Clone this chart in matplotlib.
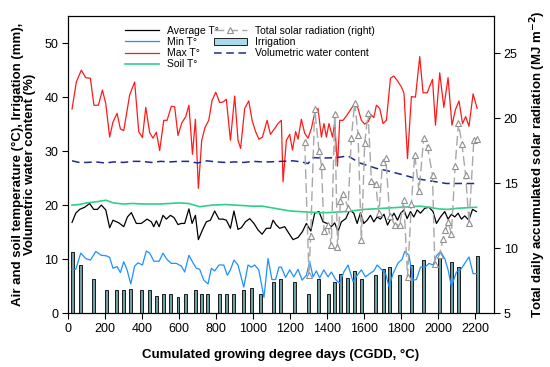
import matplotlib
matplotlib.use("Agg")
import matplotlib.pyplot as plt
from matplotlib.patches import Patch

plt.rcParams['font.family'] = ['Liberation Sans', 'DejaVu Sans']

# ---------------- data ----------------
max_x = [22, 45, 72, 96, 121, 140, 164, 186, 204, 225, 243, 265, 283, 301, 333, 360, 382, 402, 420, 441,
         459, 477, 495, 517, 535, 558, 576, 594, 614, 636, 653, 672, 688, 704, 722, 740, 760, 778, 798, 819,
         837, 855, 877, 900, 918, 932, 954, 976, 994, 1013, 1031, 1050, 1075, 1093, 1116, 1134, 1152, 1161,
         1179, 1197, 1212, 1229, 1242, 1260, 1278, 1296, 1314, 1332, 1350, 1368, 1382, 1395, 1409, 1428, 1440,
         1455, 1467, 1485, 1507, 1530, 1548, 1566, 1584, 1602, 1620, 1638, 1651, 1665, 1683, 1701, 1719, 1741,
         1759, 1777, 1800, 1814, 1833, 1854, 1876, 1899, 1917, 1939, 1968, 1984, 2007, 2029, 2052, 2073, 2092,
         2111, 2130, 2147, 2165, 2187, 2209]
max_t = [37.8, 42.8, 45.0, 43.6, 43.5, 38.5, 38.5, 41.3, 38.8, 32.6, 35.4, 37.0, 34.1, 33.8, 40.4, 42.8, 33.6,
         32.5, 38.1, 33.4, 32.4, 33.5, 30.1, 35.7, 35.7, 38.3, 38.2, 32.9, 35.2, 36.4, 38.5, 29.4, 35.9, 23.1,
         32.0, 34.4, 35.7, 39.4, 40.9, 39.0, 39.1, 39.6, 32.0, 40.2, 32.0, 30.5, 37.9, 39.3, 35.7, 33.6, 32.2,
         32.6, 35.7, 33.1, 34.2, 35.1, 35.7, 24.3, 32.0, 33.1, 30.2, 33.6, 32.2, 35.9, 33.3, 32.4, 34.2, 37.0,
         37.9, 32.6, 35.1, 32.6, 35.1, 32.6, 35.2, 27.2, 35.7, 35.7, 36.7, 37.9, 38.8, 37.9, 35.7, 35.0, 35.4,
         36.7, 36.2, 38.5, 37.9, 35.1, 35.7, 43.5, 43.9, 43.1, 41.9, 40.7, 28.6, 40.1, 40.0, 47.5, 40.8, 40.8,
         43.3, 34.8, 44.5, 38.1, 43.6, 34.8, 37.7, 39.3, 35.1, 36.4, 34.6, 40.6, 37.9]

avg_x = [22, 42, 63, 90, 117, 139, 159, 180, 204, 225, 243, 275, 301, 321, 342, 369, 396, 427, 450, 463, 477,
         492, 513, 531, 553, 572, 594, 612, 630, 653, 670, 688, 704, 726, 747, 769, 792, 815, 837, 855, 877, 896,
         918, 936, 958, 981, 1004, 1026, 1048, 1071, 1093, 1107, 1125, 1143, 1170, 1192, 1215, 1242, 1266, 1287,
         1311, 1332, 1355, 1377, 1399, 1422, 1440, 1458, 1476, 1500, 1521, 1543, 1561, 1579, 1597, 1615, 1633,
         1651, 1669, 1687, 1706, 1725, 1743, 1760, 1779, 1796, 1814, 1831, 1849, 1867, 1885, 1903, 1926, 1949,
         1971, 1989, 2011, 2034, 2052, 2070, 2088, 2106, 2124, 2142, 2164, 2184, 2205]
avg_t = [16.8, 18.5, 19.2, 19.6, 20.3, 19.2, 19.2, 20.0, 19.1, 15.8, 17.2, 16.7, 16.0, 17.8, 18.6, 16.6, 16.6,
         17.4, 16.9, 16.0, 17.1, 16.0, 18.1, 17.4, 18.1, 17.7, 16.4, 16.6, 16.6, 19.3, 16.6, 18.1, 13.6, 15.4,
         16.9, 17.2, 18.9, 17.4, 17.4, 17.2, 15.7, 18.9, 15.5, 15.8, 16.9, 17.5, 16.6, 15.4, 14.6, 15.7, 15.7,
         17.2, 16.3, 15.7, 16.0, 14.8, 13.6, 14.0, 15.1, 16.6, 15.2, 18.5, 18.8, 16.9, 16.6, 16.0, 16.7, 15.1,
         16.9, 17.5, 19.1, 18.5, 16.6, 18.6, 16.6, 17.2, 18.1, 16.9, 17.8, 17.4, 18.3, 16.3, 17.5, 18.5, 17.2,
         18.5, 19.1, 17.5, 18.8, 17.8, 19.1, 18.5, 19.4, 19.6, 18.8, 16.6, 17.8, 18.8, 17.4, 18.3, 17.8, 18.5,
         17.4, 18.0, 17.2, 19.2, 18.8]

min_x = [22, 42, 69, 96, 121, 150, 180, 207, 225, 243, 265, 283, 301, 319, 339, 360, 378, 402, 423, 441, 464,
         492, 513, 535, 558, 585, 612, 630, 653, 675, 693, 711, 733, 756, 774, 792, 815, 841, 860, 877, 896, 918,
         949, 972, 990, 1008, 1030, 1058, 1080, 1101, 1121, 1139, 1152, 1175, 1197, 1219, 1242, 1264, 1287, 1305,
         1323, 1341, 1359, 1381, 1404, 1422, 1445, 1467, 1489, 1512, 1539, 1561, 1584, 1606, 1629, 1651, 1669,
         1692, 1715, 1733, 1755, 1782, 1803, 1818, 1841, 1863, 1881, 1903, 1930, 1949, 1971, 1989, 2011, 2034,
         2052, 2070, 2097, 2119, 2142, 2165, 2187, 2205]
min_t = [8.1, 8.1, 11.1, 10.1, 9.8, 11.4, 10.7, 10.6, 10.3, 8.3, 8.6, 7.5, 9.5, 8.0, 5.4, 8.7, 9.3, 8.9, 11.5,
         11.1, 9.6, 9.6, 11.1, 9.9, 9.2, 9.2, 8.7, 7.6, 10.7, 9.3, 8.3, 8.1, 6.1, 5.4, 8.3, 7.8, 8.9, 8.9, 7.0,
         8.0, 9.8, 8.9, 4.8, 8.9, 8.5, 8.9, 8.0, 2.9, 10.1, 6.2, 6.2, 8.5, 8.5, 6.6, 8.0, 6.7, 8.1, 6.1, 7.0, 9.5,
         6.7, 7.8, 6.5, 8.0, 6.7, 7.6, 6.2, 5.5, 7.6, 8.9, 5.8, 7.0, 8.0, 6.7, 7.3, 7.8, 8.9, 8.1, 7.3, 4.9, 7.3,
         9.3, 9.9, 11.4, 10.7, 6.1, 6.2, 8.5, 8.6, 9.2, 8.9, 10.6, 11.4, 10.1, 8.0, 4.9, 7.6, 8.0, 9.2, 10.4, 7.3,
         7.3]

soil_x = [22, 60, 100, 150, 205, 245, 300, 350, 400, 450, 500, 550, 600, 650, 711, 780, 850, 900, 950, 990,
          1050, 1100, 1150, 1200, 1250, 1300, 1350, 1400, 1450, 1500, 1550, 1600, 1650, 1700, 1750, 1800, 1850,
          1900, 1950, 2000, 2050, 2100, 2150, 2205]
soil_t = [20.0, 20.1, 20.4, 20.6, 20.9, 20.4, 20.2, 20.3, 20.2, 20.2, 20.2, 20.3, 20.4, 20.3, 19.7, 20.0,
          20.1, 20.0, 19.9, 19.8, 19.8, 19.5, 19.2, 18.9, 18.8, 18.7, 18.6, 18.6, 18.7, 18.8, 19.0, 19.2, 19.3,
          19.4, 19.5, 19.6, 19.7, 19.8, 19.6, 19.3, 19.2, 19.4, 19.5, 19.6]

vwc_x = [22, 60, 100, 150, 200, 250, 300, 350, 400, 450, 500, 550, 600, 650, 700, 750, 800, 850, 900, 950,
         1000, 1050, 1089, 1150, 1215, 1260, 1296, 1323, 1377, 1449, 1512, 1575, 1665, 1719, 1809, 1881, 1953,
         2043, 2115, 2205]
vwc = [28.2, 27.9, 27.9, 28.0, 27.8, 28.0, 27.9, 28.1, 28.1, 27.9, 28.1, 28.0, 28.1, 28.1, 27.8, 28.2, 28.0,
       27.9, 28.0, 27.9, 28.1, 28.0, 28.0, 28.1, 28.2, 28.0, 27.7, 28.8, 28.7, 28.8, 29.1, 27.8, 26.8, 26.4,
       25.6, 24.9, 24.5, 24.0, 24.0, 24.0]

irr_x = [22, 69, 139, 207, 261, 301, 339, 398, 441, 477, 517, 555, 594, 632, 690, 720, 754, 819, 858, 896,
         950, 990, 1041, 1111, 1149, 1225, 1297, 1350, 1404, 1440, 1471, 1507, 1548, 1584, 1661, 1701, 1737,
         1791, 1854, 1921, 2007, 2070, 2110, 2209]
irr = [11.4, 8.9, 6.4, 4.3, 4.3, 4.3, 4.5, 4.3, 4.3, 3.2, 3.5, 3.5, 3.0, 3.5, 4.3, 3.5, 3.5, 3.5, 3.5, 3.5,
       4.3, 4.6, 3.5, 5.7, 6.4, 5.7, 3.5, 6.4, 3.5, 5.7, 7.3, 6.5, 7.8, 6.4, 7.0, 8.1, 8.5, 7.0, 8.9, 9.9,
       10.6, 9.5, 8.6, 10.6]

rad_x = [1278, 1301, 1310, 1332, 1355, 1369, 1382, 1404, 1422, 1440, 1455, 1471, 1485, 1512, 1530, 1548, 1566,
         1584, 1602, 1620, 1638, 1661, 1679, 1698, 1716, 1737, 1764, 1791, 1813, 1833, 1854, 1872, 1895, 1921,
         1941, 1968, 1980, 2007, 2025, 2038, 2052, 2070, 2090, 2108, 2127, 2147, 2165, 2191, 2209]
rad = [18.2, 7.9, 10.9, 20.7, 17.5, 16.3, 11.3, 11.8, 10.2, 20.3, 10.1, 13.6, 14.2, 13.1, 18.5, 21.2, 18.7,
       10.6, 18.1, 20.4, 15.2, 14.9, 12.7, 16.6, 16.9, 12.5, 11.8, 11.8, 13.7, 7.8, 13.4, 17.2, 14.4, 18.5,
       17.8, 15.6, 8.8, 9.5, 10.7, 11.4, 12.0, 11.1, 16.3, 19.6, 18.0, 15.6, 11.9, 18.3, 18.4]

x_ticks = [0, 200, 400, 600, 800, 1000, 1200, 1400, 1600, 1800, 2000, 2200]
left_ticks = [0, 10, 20, 30, 40, 50]
right_ticks = [5, 10, 15, 20, 25]

# ---------------- plot ----------------
fig = plt.figure(figsize=(5.5, 3.67), dpi=100)
ax = fig.add_axes([0.1236, 0.147, 0.7746, 0.809])
ax2 = ax.twinx()

bar_col = '#6f9ea6'
ax.bar(irr_x, irr, width=16, color=bar_col, edgecolor='black', linewidth=0.6, zorder=1)
l_avg, = ax.plot(avg_x, avg_t, color='black', lw=0.9, zorder=3)
l_min, = ax.plot(min_x, min_t, color='#1e90ff', lw=0.9, zorder=3)
l_max, = ax.plot(max_x, max_t, color='#ff1a1a', lw=0.9, zorder=3)
l_soil, = ax.plot(soil_x, soil_t, color='#2fd18a', lw=1.2, zorder=3)
l_vwc, = ax.plot(vwc_x, vwc, color='#1f2b8c', lw=1.1, ls=(0, (5, 3)), zorder=3)

l_rad, = ax2.plot(rad_x, rad, color='#a8a8a8', lw=1.0, ls=(0, (7, 3)), marker='^', ms=5,
                  mfc='white', mec='#909090', mew=0.8, zorder=4)

ax.set_xlim(0, 2300)
ax.set_ylim(0, 55)
ax2.set_ylim(5, 27.85)
ax.set_xticks(x_ticks)
ax.set_yticks(left_ticks)
ax2.set_yticks(right_ticks)
for a in (ax, ax2):
    a.tick_params(direction='out', length=4, width=0.8, labelsize=9, pad=3)
    for s in a.spines.values():
        s.set_linewidth(0.8)

ax.set_xlabel('Cumulated growing degree days (CGDD, °C)', fontsize=9.5, fontweight='bold', labelpad=10)
ax.set_ylabel('Air and soil temperature (°C), Irrigation (mm),\nVolumetric water content (%)',
              fontsize=9.5, fontweight='bold', labelpad=6, linespacing=1.0)
ax2.set_ylabel('Total daily accumulated solar radiation (MJ m$^{\\mathbf{-2}}$)', fontsize=9.5,
               fontweight='bold', labelpad=8)

irr_handle = Patch(facecolor='#a8dcec', edgecolor='black', linewidth=0.6)
handles = [l_avg, l_min, l_max, l_soil, l_rad, irr_handle, l_vwc]
labels = ['Average T°', 'Min T°', 'Max T°', 'Soil T°', 'Total solar radiation (right)', 'Irrigation',
          'Volumetric water content']
ax2.legend(handles, labels, ncol=2, loc='upper left', bbox_to_anchor=(0.135, 0.968), frameon=False,
           fontsize=7.5, handlelength=3.2, handletextpad=0.8, columnspacing=-0.5, labelspacing=0.12,
           borderpad=0, borderaxespad=0)

fig.savefig('out.png', dpi=100)
